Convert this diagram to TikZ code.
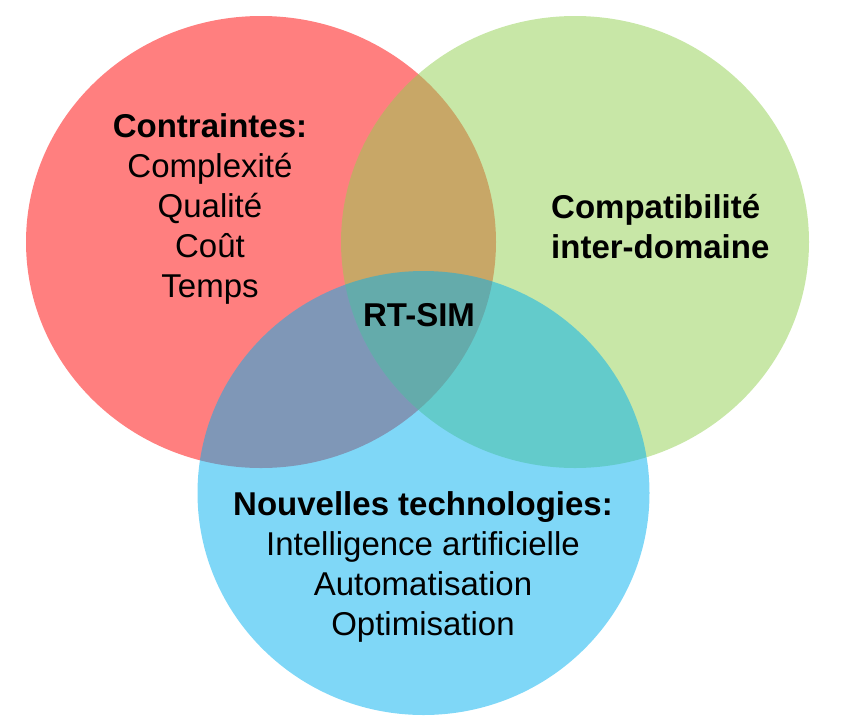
\documentclass[tikz,border=0pt]{standalone}
\usepackage{fontspec}
\setmainfont{Liberation Sans}
\definecolor{setred}{RGB}{255,0,0}
\definecolor{setgreen}{RGB}{146,208,80}
\definecolor{setblue}{RGB}{0,176,240}
\tikzset{
  setfill/.style={fill=#1, fill opacity=0.5},
  settext/.style={inner sep=0pt, font=\fontsize{33}{40}\selectfont}
}
\begin{document}
\begin{tikzpicture}[x=1pt,y=-1pt]
  \useasboundingbox (0,0) rectangle (842,720);
  % the three sets
  \fill[setfill=setred] (261,242) ellipse [x radius=235, y radius=226];
  \fill[setfill=setgreen] (575,242) ellipse [x radius=234, y radius=226];
  \fill[setfill=setblue] (423.5,493) ellipse [x radius=226, y radius=222];
  % labels
  \node[settext, align=center, anchor=north] (contraintes) at (210,113)
    {\textbf{Contraintes:}\\Complexité\\Qualité\\Coût\\Temps};
  \node[settext, align=left, anchor=north west] (compat) at (551,194)
    {\textbf{Compatibilité}\\\textbf{inter-domaine}};
  \node[settext, anchor=center] (rtsim) at (419,315) {\textbf{RT-SIM}};
  \node[settext, align=center, anchor=north] (techno) at (423,491)
    {\textbf{Nouvelles technologies:}\\Intelligence artificielle\\Automatisation\\Optimisation};
\end{tikzpicture}
\end{document}
